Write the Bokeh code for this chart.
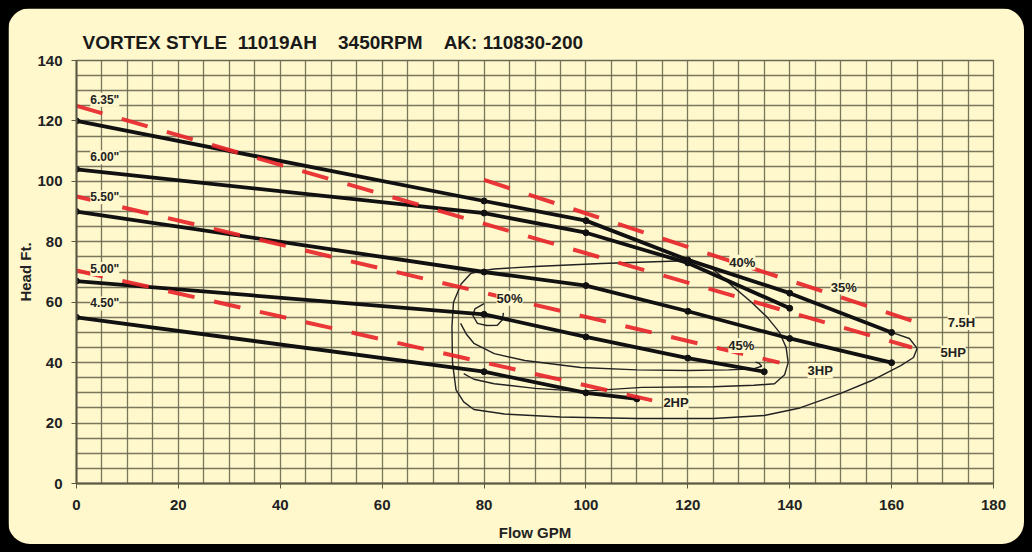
from bokeh.plotting import figure
from bokeh.models import Label, SingleIntervalTicker, Range1d
from bokeh.embed import file_html
from bokeh.resources import INLINE

NB = "\u00a0"
TITLE = "VORTEX STYLE" + NB * 2 + "11019AH" + NB * 4 + "3450RPM" + NB * 4 + "AK: 110830-200"
X_LABEL = "Flow GPM"
Y_LABEL = "Head Ft."

# ---- head curves (impeller diameters) ----
d635_x = [0, 80, 100, 120, 140, 160]
d635_y = [120, 93.5, 87, 74, 63, 50]
d600_x = [0, 80, 100, 120, 140]
d600_y = [104, 89.5, 83, 73, 58]
d550_x = [0, 80, 100, 120, 140, 160]
d550_y = [90, 70, 65.5, 57, 48, 40]
d500_x = [0, 80, 100, 120, 135]
d500_y = [67, 56, 48.5, 41.5, 37]
d450_x = [0, 80, 100, 110]
d450_y = [55, 37, 30, 28]

diam_labels = ['6.35"', '6.00"', '5.50"', '5.00"', '4.50"']
diam_lab_x = [2.7, 2.7, 2.7, 2.7, 2.7]
diam_lab_y = [127, 108, 94.7, 71, 59.6]

# ---- horsepower lines ----
hp_labels = ["7.5H", "5HP", "3HP", "2HP"]
hp_x0 = [80, 0, 0, 0]
hp_y0 = [100.5, 125, 95, 70.5]
hp_x1 = [165, 164, 138, 113]
hp_y1 = [53.3, 45, 40, 27.5]
hp_lab_x = [171, 169.6, 143.5, 115.2]
hp_lab_y = [53.3, 43.2, 37.4, 26.8]

# ---- efficiency contours ----
c40_x = [121, 112, 103, 90, 82, 79, 77.4, 75.5, 74, 73.7, 73.8, 74.5, 76, 78, 84, 95,
         110, 125, 135, 142, 150, 156, 161.8, 164.3, 165, 163.5, 160]
c40_y = [73.8, 73.3, 72.8, 71.8, 71, 70.3, 69.5, 66, 60, 52, 40, 31, 27, 24.5, 23, 22,
         21.5, 21.5, 22.5, 25, 29.8, 34, 39, 41.7, 44.7, 48, 50]
c45_x = [124.5, 127, 129, 132.5, 135.6, 138, 139.3, 139.7, 139, 137, 133, 125, 111, 99,
         90, 82, 78, 76]
c45_y = [71.5, 68, 65, 60, 55, 50, 45, 40, 36, 33, 32.5, 32, 31.8, 30.5, 31.5, 33, 34.5, 36.4]
c50_x = [75.4, 76.5, 78, 82, 88, 99, 110, 120, 128, 133, 134.5, 134, 133.3]
c50_y = [53, 49.5, 46.4, 43, 40.7, 38.4, 37.6, 37.4, 37.6, 38, 38.8, 39.8, 40.2]
swirl_x = [80, 78.2, 77.8, 78.7, 80.5, 82.6, 83.6, 83.8]
swirl_y = [59.5, 57.8, 55.6, 53, 52.3, 52.4, 54.2, 56.5]

eff_labels = ["50%", "40%", "35%", "45%"]
eff_x = [85, 130.7, 150.6, 130.5]
eff_y = [61.3, 73.2, 65, 45.7]

CREAM = "#FFF8CD"
GRID = "#6a6850"
FONT = "Liberation Sans"

p = figure(width=1016, height=536, output_backend="svg", toolbar_location=None,
           x_range=Range1d(0, 180), y_range=Range1d(0, 140),
           min_border_left=68, min_border_right=31, min_border_top=52, min_border_bottom=61,
           background_fill_color=CREAM, border_fill_color=CREAM, title=TITLE)
p.styles = {"border-radius": "22px", "overflow": "hidden"}

p.title.text_font = FONT
p.title.text_font_size = "19px"
p.title.text_font_style = "bold"
p.title.text_color = "#1a1a1a"
p.title.offset = 6
p.title.standoff = 16

for ax in (p.xaxis[0], p.yaxis[0]):
    ax.ticker = SingleIntervalTicker(interval=20)
    ax.major_label_text_font = FONT
    ax.major_label_text_font_style = "bold"
    ax.major_label_text_font_size = "15px"
    ax.major_label_text_color = "#222222"
    ax.axis_label_text_font = FONT
    ax.axis_label_text_font_style = "bold"
    ax.axis_label_text_font_size = "15px"
    ax.axis_label_text_color = "#222222"
    ax.axis_line_color = "#5a5842"
    ax.axis_line_width = 2
    ax.major_tick_line_color = "#5a5842"
    ax.major_tick_in = 0
    ax.major_tick_out = 5
    ax.minor_tick_line_color = None

p.xaxis.axis_label = X_LABEL
p.yaxis.axis_label = Y_LABEL
p.xaxis.major_label_standoff = 11
p.xaxis.axis_label_standoff = 11
p.yaxis.major_label_standoff = 9
p.yaxis.axis_label_standoff = 0

p.xgrid.ticker = SingleIntervalTicker(interval=5)
p.ygrid.ticker = SingleIntervalTicker(interval=5)
for g in (p.xgrid, p.ygrid):
    g.grid_line_color = GRID
    g.grid_line_width = 1.3
    g.grid_line_alpha = 0.9
p.outline_line_color = GRID
p.outline_line_width = 1.3

def add_label(x, y, text, size, align="left"):
    p.add_layout(Label(x=x, y=y, text=text, text_font=FONT, text_font_size=size,
                       text_font_style="bold", text_color="#222222", text_align=align,
                       text_baseline="middle", background_fill_color=CREAM,
                       background_fill_alpha=1.0, border_line_color=None))

# efficiency contours (thin)
for cx, cy in ((c40_x, c40_y), (c45_x, c45_y), (c50_x, c50_y), (swirl_x, swirl_y)):
    p.line(cx, cy, line_color="#222222", line_width=1.4)

# head curves
for cx, cy in ((d635_x, d635_y), (d600_x, d600_y), (d550_x, d550_y),
               (d500_x, d500_y), (d450_x, d450_y)):
    p.line(cx, cy, line_color="#111111", line_width=3.8)
    p.scatter(cx, cy, size=6, color="#111111")

# horsepower lines
for i in range(len(hp_labels)):
    p.line([hp_x0[i], hp_x1[i]], [hp_y0[i], hp_y1[i]], line_color="#e8262b",
           line_width=4, line_dash="27 20", line_alpha=0.92)

for t, x, y in zip(diam_labels, diam_lab_x, diam_lab_y):
    add_label(x, y, t, "12px")
for t, x, y in zip(hp_labels, hp_lab_x, hp_lab_y):
    add_label(x, y, t, "13px")
for t, x, y in zip(eff_labels, eff_x, eff_y):
    add_label(x, y, t, "13px", align="center")

html = file_html(p, INLINE)
css = ("<style>html,body{background:#000000 !important;}"
       "body{margin:0 !important;padding:8px !important;}</style>")
html = html.replace("</head>", css + "</head>", 1)
open("out.html", "w").write(html)
